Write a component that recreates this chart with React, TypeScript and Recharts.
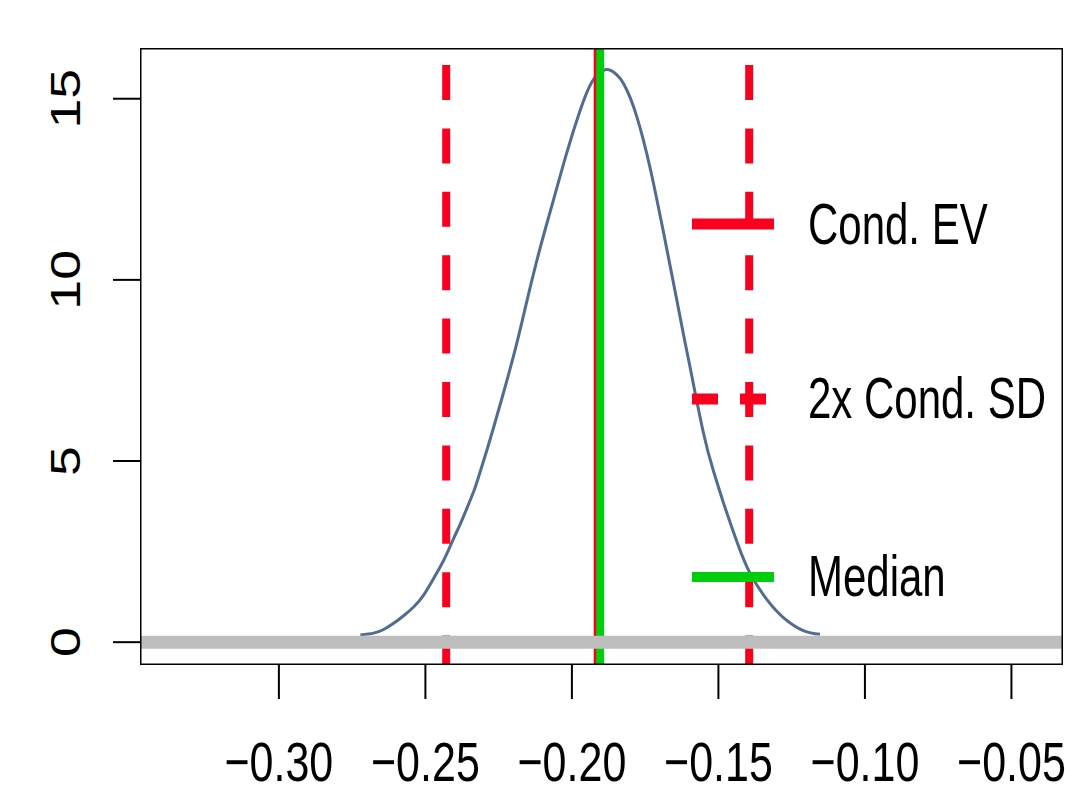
import React from 'react';
import { ComposedChart, Line, XAxis, YAxis, Legend } from 'recharts';

// Density curve
const curveX = [-0.27220, -0.26767, -0.26426, -0.26085, -0.25744, -0.25402, -0.25061, -0.24720, -0.24492, -0.24263, -0.24038, -0.23810, -0.23581, -0.23356, -0.23186, -0.22872, -0.22558, -0.21992, -0.21535, -0.21081, -0.20628, -0.20171, -0.19717, -0.19318, -0.18864, -0.18465, -0.18240, -0.18012, -0.17783, -0.17558, -0.17329, -0.17101, -0.16876, -0.16647, -0.16419, -0.16194, -0.15965, -0.15512, -0.15171, -0.14829, -0.14372, -0.13919, -0.13349, -0.12783, -0.12101, -0.11531];
const curveY = [0.20, 0.25, 0.35, 0.52, 0.73, 0.97, 1.30, 1.76, 2.08, 2.45, 2.86, 3.26, 3.70, 4.15, 4.56, 5.38, 6.25, 7.90, 9.42, 10.89, 12.21, 13.52, 14.68, 15.46, 15.80, 15.66, 15.42, 15.03, 14.50, 13.85, 13.08, 12.22, 11.32, 10.38, 9.44, 8.50, 7.58, 5.78, 4.73, 3.85, 2.78, 1.90, 1.18, 0.68, 0.32, 0.22];

const condEV = -0.1912;
const sdBounds = [-0.2429, -0.1395];
const medianVal = -0.19035;

const xTicks = [-0.30, -0.25, -0.20, -0.15, -0.10, -0.05];
const xTickLabels = ['\u22120.30', '\u22120.25', '\u22120.20', '\u22120.15', '\u22120.10', '\u22120.05'];
const yTicks = [0, 5, 10, 15];

const xDomain = [-0.3474, -0.0324];
const yDomain = [-0.63, 16.4];

const legendLabels = ['Cond. EV', '2x Cond. SD', 'Median'];

const RED = '#F8001E';
const GREEN = '#00CD0C';
const CURVE = '#506D91';
const GRAY = '#BEBEBE';
const FONT = '"Liberation Sans", Arial, sans-serif';

const curveData = curveX.map((x, i) => ({ x, y: curveY[i] }));
const vline = (v: number) => [{ x: v, y: yDomain[1] }, { x: v, y: yDomain[0] }];
const zeroLine = [{ x: xDomain[0], y: 0 }, { x: xDomain[1], y: 0 }];
const boxData = [
  { x: xDomain[0], y: yDomain[1] },
  { x: xDomain[1], y: yDomain[1] },
  { x: xDomain[1], y: yDomain[0] },
  { x: xDomain[0], y: yDomain[0] },
  { x: xDomain[0], y: yDomain[1] },
];

const XTick = (props: any) => {
  const { x, y, payload } = props;
  const idx = xTicks.findIndex((t) => Math.abs(t - payload.value) < 1e-9);
  return (
    <text
      transform={`translate(${x},${y + 80}) scale(1,1.3)`}
      textAnchor="middle"
      fontFamily={FONT}
      fontSize={43}
      fill="#000"
    >
      {idx >= 0 ? xTickLabels[idx] : payload.value}
    </text>
  );
};

const YTick = (props: any) => {
  const { x, y, payload } = props;
  return (
    <text
      transform={`translate(${x - 31},${y}) rotate(-90) scale(1.28,1)`}
      textAnchor="middle"
      fontFamily={FONT}
      fontSize={42}
      fill="#000"
    >
      {String(payload.value)}
    </text>
  );
};

const LegendContent = () => (
  <svg width={370} height={420} style={{ overflow: 'visible', display: 'block' }}>
    <line x1={2} x2={84} y1={34} y2={34} stroke={RED} strokeWidth={11} />
    <line x1={2} x2={84} y1={209} y2={209} stroke={RED} strokeWidth={11} strokeDasharray="26 22" />
    <line x1={2} x2={84} y1={387} y2={387} stroke={GREEN} strokeWidth={10} />
    {legendLabels.map((l, i) => (
      <text
        key={l}
        transform={`translate(118,${[54, 228, 406][i]}) scale(1,1.35)`}
        fontFamily={FONT}
        fontSize={42}
        fill="#000"
      >
        {l}
      </text>
    ))}
  </svg>
);

export default function App() {
  return (
    <div style={{ position: 'absolute', left: 0, top: 0, width: 1065, height: 793, background: '#fff' }}>
      <ComposedChart
        width={1065}
        height={793}
        margin={{ top: 48, right: 2, bottom: 0, left: 0 }}
      >
        <XAxis
          dataKey="x"
          type="number"
          domain={xDomain}
          ticks={xTicks}
          allowDataOverflow
          height={128}
          axisLine={false}
          tickSize={34}
          tickLine={{ stroke: '#000', strokeWidth: 2 }}
          tick={<XTick />}
          interval={0}
        />
        <YAxis
          dataKey="y"
          type="number"
          domain={yDomain}
          ticks={yTicks}
          allowDataOverflow
          width={140}
          axisLine={false}
          tickSize={27}
          tickLine={{ stroke: '#000', strokeWidth: 2 }}
          tick={<YTick />}
          interval={0}
        />
        <Line data={curveData} dataKey="y" type="natural" stroke={CURVE} strokeWidth={3} dot={false} activeDot={false} isAnimationActive={false} />
        {sdBounds.map((v) => (
          <Line key={v} data={vline(v)} dataKey="y" type="linear" stroke={RED} strokeWidth={8} strokeDasharray="35 28.4" strokeDashoffset={46.4} dot={false} activeDot={false} isAnimationActive={false} />
        ))}
        <Line data={vline(condEV)} dataKey="y" type="linear" stroke={RED} strokeWidth={8} dot={false} activeDot={false} isAnimationActive={false} />
        <Line data={vline(medianVal)} dataKey="y" type="linear" stroke={GREEN} strokeWidth={8} dot={false} activeDot={false} isAnimationActive={false} />
        <Line data={zeroLine} dataKey="y" type="linear" stroke={GRAY} strokeWidth={13} dot={false} activeDot={false} isAnimationActive={false} />
        <Line data={boxData} dataKey="y" type="linear" stroke="#000" strokeWidth={3} strokeLinejoin="miter" strokeLinecap="square" dot={false} activeDot={false} isAnimationActive={false} />
        <Legend
          layout="vertical"
          align="center"
          verticalAlign="middle"
          content={<LegendContent />}
          wrapperStyle={{ position: 'absolute', left: 690, top: 190, width: 370, height: 420 }}
        />
      </ComposedChart>
    </div>
  );
}
